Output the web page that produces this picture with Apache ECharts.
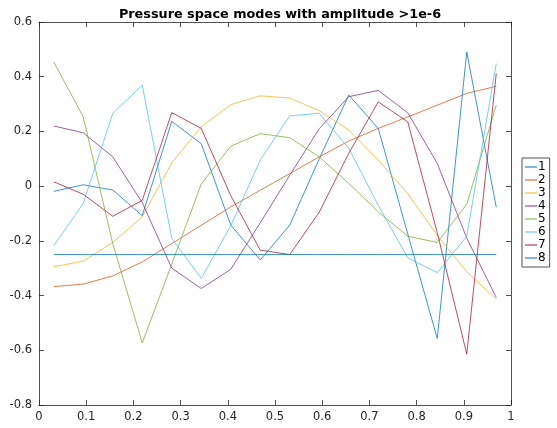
<!DOCTYPE html>
<html>
<head>
<meta charset="utf-8">
<script src="https://cdn.jsdelivr.net/npm/echarts@6/dist/echarts.min.js"></script>
<style>
  html, body { margin: 0; padding: 0; background: #fff; }
  #chart { width: 557px; height: 428px; }
</style>
</head>
<body>
<div id="chart"></div>
<script>
// sample positions (cell centres)
const xs = [0.03125, 0.09375, 0.15625, 0.21875, 0.28125, 0.34375, 0.40625, 0.46875,
  0.53125, 0.59375, 0.65625, 0.71875, 0.78125, 0.84375, 0.90625, 0.96875]

const mode1 = [-0.019, 0.005, -0.014, -0.108, 0.237, 0.155, -0.142, -0.27, -0.142, 0.1, 0.333, 0.211, -0.175, -0.557, 0.49, -0.077]
const mode2 = [-0.367, -0.358, -0.328, -0.277, -0.21, -0.143, -0.076, -0.015, 0.046, 0.107, 0.165, 0.211, 0.253, 0.296, 0.339, 0.365]
const mode3 = [-0.295, -0.274, -0.206, -0.112, 0.085, 0.217, 0.298, 0.33, 0.322, 0.276, 0.205, 0.095, -0.027, -0.18, -0.313, -0.414]
const mode4 = [0.22, 0.195, 0.107, -0.06, -0.3, -0.374, -0.304, -0.134, 0.04, 0.21, 0.327, 0.35, 0.268, 0.083, -0.19, -0.407]
const mode5 = [0.454, 0.253, -0.21, -0.573, -0.285, 0.008, 0.146, 0.192, 0.177, 0.107, 0.01, -0.094, -0.183, -0.206, -0.066, 0.296]
const mode6 = [-0.218, -0.063, 0.266, 0.369, -0.191, -0.337, -0.145, 0.095, 0.257, 0.266, 0.138, -0.07, -0.262, -0.316, -0.183, 0.448]
const mode7 = [0.016, -0.03, -0.11, -0.052, 0.269, 0.211, -0.035, -0.234, -0.25, -0.095, 0.12, 0.308, 0.235, -0.17, -0.614, 0.412]
const mode8 = [-0.25, -0.25, -0.25, -0.25, -0.25, -0.25, -0.25, -0.25, -0.25, -0.25, -0.25, -0.25, -0.25, -0.25, -0.25, -0.25]

const modes = [mode1, mode2, mode3, mode4, mode5, mode6, mode7, mode8]
const names = ['1', '2', '3', '4', '5', '6', '7', '8']
const colors = ['#0072BD', '#D95319', '#EDB120', '#7E2F8E', '#77AC30', '#4DBEEE', '#A2142F', '#0072BD']

const axisColor = '#262626'
const font = 'DejaVu Sans'

const myChart = echarts.init(document.getElementById('chart'), null, { renderer: 'canvas' })

const xBase = {
  type: 'value',
  min: 0,
  max: 1,
  interval: 0.1,
  axisLine: { show: true, onZero: false, lineStyle: { color: axisColor, width: 0.8 } },
  axisTick: { show: true, inside: true, length: 5, lineStyle: { color: axisColor, width: 0.8 } },
  splitLine: { show: false },
}
const yBase = {
  type: 'value',
  min: -0.8,
  max: 0.6,
  interval: 0.2,
  axisLine: { show: true, onZero: false, lineStyle: { color: axisColor, width: 0.8 } },
  axisTick: { show: true, inside: true, length: 5, lineStyle: { color: axisColor, width: 0.8 } },
  splitLine: { show: false },
}

myChart.setOption({
  animation: false,
  color: colors,
  title: {
    text: 'Pressure space modes with amplitude >1e-6',
    left: 275,
    top: 3,
    textAlign: 'center',
    textStyle: { fontFamily: font, fontSize: 12.8, fontWeight: 'bold', color: '#000' },
  },
  legend: {
    orient: 'vertical',
    left: 522,
    top: 158,
    padding: [3, 4, 3, 3],
    itemGap: 1,
    itemWidth: 12,
    itemHeight: 1,
    icon: 'rect',
    borderColor: axisColor,
    borderWidth: 0.8,
    borderRadius: 0,
    textStyle: { fontFamily: font, fontSize: 12, color: '#000', padding: [0, 0, 0, -4] },
    data: names,
  },
  grid: { left: 39, right: 46, top: 22, bottom: 23 },
  xAxis: [
    {
      ...xBase,
      position: 'bottom',
      axisLabel: {
        color: axisColor,
        fontFamily: font,
        fontSize: 11.5,
        margin: 6,
        formatter: v => String(Math.round(v * 10) / 10),
      },
    },
    { ...xBase, position: 'top', axisLabel: { show: false } },
  ],
  yAxis: [
    {
      ...yBase,
      position: 'left',
      axisLabel: {
        color: axisColor,
        fontFamily: font,
        fontSize: 11.5,
        margin: 7,
        formatter: v => {
          const r = Math.round(v * 10) / 10
          return r === 0 ? '0' : r.toFixed(1)
        },
      },
    },
    { ...yBase, position: 'right', axisLabel: { show: false } },
  ],
  series: modes.map((m, i) => ({
    name: names[i],
    type: 'line',
    xAxisIndex: 0,
    yAxisIndex: 0,
    symbol: 'none',
    smooth: false,
    lineStyle: { width: 1, color: colors[i], opacity: 0.75 },
    itemStyle: { color: colors[i] },
    data: xs.map((x, j) => [x, m[j]]),
  })),
})
</script>
</body>
</html>
